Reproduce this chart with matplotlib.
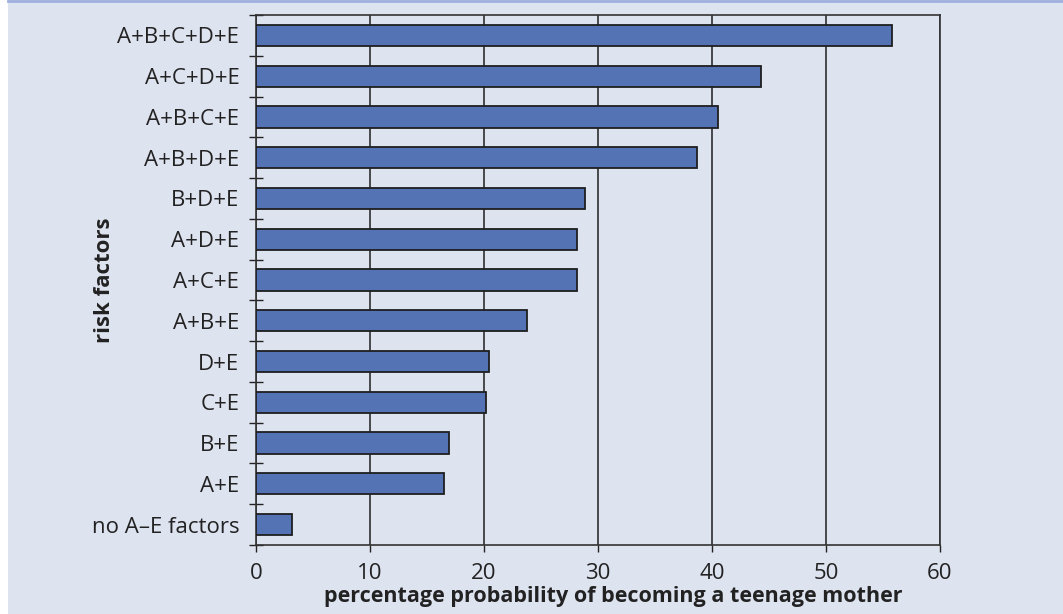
import numpy as np
import matplotlib.pyplot as plt
from matplotlib.patches import Rectangle
from matplotlib.lines import Line2D

plt.rcParams['font.family'] = ['Open Sans', 'DejaVu Sans']

# top to bottom, as in the chart
factors = ["A+B+C+D+E", "A+C+D+E", "A+B+C+E", "A+B+D+E", "B+D+E", "A+D+E",
           "A+C+E", "A+B+E", "D+E", "C+E", "B+E", "A+E", "no A\u2013E factors"]
prob = [55.8, 44.3, 40.5, 38.7, 28.9, 28.2, 28.2, 23.8, 20.4, 20.2, 16.9, 16.5, 3.2]
xticks = [0, 10, 20, 30, 40, 50, 60]

bg = '#dee3f0'
fig = plt.figure(figsize=(10.63, 6.14), dpi=100, facecolor='white')
fig.patches.append(Rectangle((8/1063, 0), 1, 1, transform=fig.transFigure,
                             facecolor=bg, edgecolor='none', zorder=-10))
fig.lines.append(Line2D([8/1063, 1], [1 - 1/614, 1 - 1/614], transform=fig.transFigure,
                        color='#9fb0dd', lw=2))

ax = fig.add_axes([256/1063, 69/614, 684/1063, 530/614])
ax.set_facecolor(bg)

n = len(factors)
ypos = np.arange(n)[::-1]
ax.barh(ypos, prob, height=0.52, color='#5373b5', edgecolor='#1e1e1e', lw=1.3, zorder=3)

ax.set_xlim(0, 60)
ax.set_ylim(-0.5, n - 0.5)
ax.set_xticks(xticks)
ax.set_xticklabels([str(t) for t in xticks], fontsize=16, color='#222222')
ax.set_yticks(ypos)
ax.set_yticklabels(factors, fontsize=16, color='#222222')
ax.tick_params(axis='y', which='major', length=0, pad=12)
ax.set_yticks(np.arange(-0.5, n), minor=True)
ax.tick_params(axis='y', which='minor', length=10, direction='inout', width=1, color='#222222')
ax.tick_params(axis='x', length=5, direction='out', width=1, color='#222222', pad=8)

ax.xaxis.grid(True, color='#1e1e1e', lw=1.1, zorder=1)
for s in ax.spines.values():
    s.set_color('#333333')
    s.set_linewidth(1.2)

ax.set_xlabel("percentage probability of becoming a teenage mother", fontsize=15.5,
              fontweight='bold', color='#222222')
ax.xaxis.set_label_coords(0.522, -0.078)
ax.set_ylabel("risk factors", fontsize=16, fontweight='bold', color='#222222')
ax.yaxis.set_label_coords(-0.206, 0.5)

plt.savefig('out.png', dpi=100, facecolor=fig.get_facecolor())
